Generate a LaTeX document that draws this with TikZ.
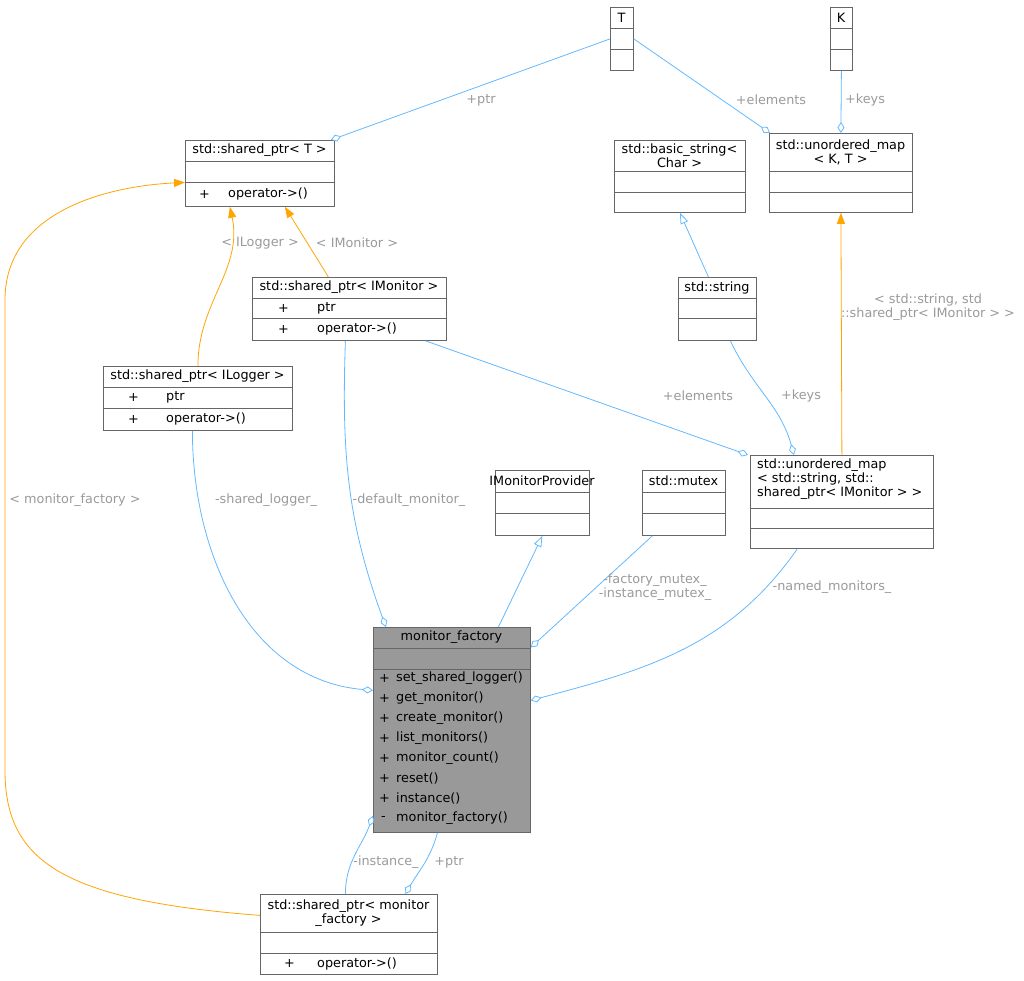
\documentclass[tikz,border=0pt]{standalone}
\usepackage{fontspec}
\setmainfont{DejaVu Sans}
\usetikzlibrary{arrows.meta,calc}
\definecolor{edgeblue}{HTML}{63B8FF}
\definecolor{edgeorange}{HTML}{FFA500}
\definecolor{lblgray}{HTML}{9A9A9A}
\definecolor{boxline}{HTML}{666666}
\tikzset{
    cls/.style={draw=boxline, fill=white, anchor=north west, inner sep=0pt, line width=0.8pt},
    row/.style={draw=boxline, line width=0.8pt},
    txt/.style={inner sep=0pt, font=\fontsize{12.8}{14}\selectfont, align=center},
    mem/.style={txt, anchor=west},
    lbl/.style={txt, text=lblgray},
    usage/.style={edgeblue, line width=0.8pt, -{Diamond[open, length=11pt, width=7pt]}},
    inherit/.style={edgeblue, line width=0.8pt, -{Triangle[open, length=11pt, width=8pt]}},
    templ/.style={edgeorange, line width=0.8pt, -{Triangle[length=11pt, width=8pt]}}
}
% a class box: name, x1, y1, x2, y2
\newcommand{\umlbox}[6][]{\node[cls, #1, minimum width=#4-#2, minimum height=#5-#3] (#6) at (#2,#3) {};}
\begin{document}
\begin{tikzpicture}[x=1pt, y=-1pt]
\useasboundingbox (0,0) rectangle (1024,980);
% class boxes
\umlbox{610}{7}{633}{70}{T}
\draw[row] (610,28) -- (633,28) (610,49) -- (633,49);
\node[txt] (T-t) at (621.5,17.5) {T};
\umlbox{830}{7}{852}{70}{K}
\draw[row] (830,28) -- (852,28) (830,49) -- (852,49);
\node[txt] (K-t) at (841,17.5) {K};
\umlbox{185}{140}{334}{206}{spT}
\draw[row] (185,161) -- (334,161) (185,182) -- (334,182);
\node[txt] (spT-t) at (259.5,150.5) {std::shared\_ptr< T >};
\node[mem] (spT-m1) at (199,194) {+};
\node[mem] (spT-m2) at (228,194) {operator->()};
\umlbox{614}{140}{745}{212}{bstr}
\draw[row] (614,171) -- (745,171) (614,192) -- (745,192);
\node[txt] (bstr-t) at (679.5,155.5) {std::basic\_string<\\Char >};
\umlbox{769}{133}{912}{212}{umKT}
\draw[row] (769,171) -- (912,171) (769,192) -- (912,192);
\node[txt] (umKT-t) at (840.5,152) {std::unordered\_map\\< K, T >};
\umlbox{252}{277}{446}{340}{spIM}
\draw[row] (252,298) -- (446,298) (252,318) -- (446,318);
\node[txt] (spIM-t) at (349,287.5) {std::shared\_ptr< IMonitor >};
\node[mem] (spIM-m1) at (278,308) {+};
\node[mem] (spIM-m2) at (317,308) {ptr};
\node[mem] (spIM-m3) at (278,329) {+};
\node[mem] (spIM-m4) at (317,329) {operator->()};
\umlbox{678}{277}{756}{340}{str}
\draw[row] (678,298) -- (756,298) (678,318) -- (756,318);
\node[txt] (str-t) at (717,287.5) {std::string};
\umlbox{103}{366}{292}{430}{spIL}
\draw[row] (103,387) -- (292,387) (103,408) -- (292,408);
\node[txt] (spIL-t) at (197.5,376.5) {std::shared\_ptr< ILogger >};
\node[mem] (spIL-m1) at (128,397.5) {+};
\node[mem] (spIL-m2) at (166,397.5) {ptr};
\node[mem] (spIL-m3) at (128,419) {+};
\node[mem] (spIL-m4) at (166,419) {operator->()};
\umlbox{495}{470}{589}{535}{imp}
\draw[row] (495,492) -- (589,492) (495,513) -- (589,513);
\node[txt] (imp-t) at (542,481) {IMonitorProvider};
\umlbox{642}{470}{725}{535}{mtx}
\draw[row] (642,492) -- (725,492) (642,513) -- (725,513);
\node[txt] (mtx-t) at (683.5,481) {std::mutex};
\umlbox{750}{455}{933}{548}{umSI}
\draw[row] (750,508) -- (933,508) (750,528) -- (933,528);
\node[txt, align=left, anchor=north west] (umSI-t) at (757,459) {std::unordered\_map\\< std::string, std::\\shared\_ptr< IMonitor > >};
\umlbox[fill=gray!80]{373}{627}{530}{832}{mf}
\draw[row] (373,648) -- (530,648) (373,669) -- (530,669);
\node[txt] (mf-t) at (451.5,637.5) {monitor\_factory};
\foreach \m [count=\i] in {set\_shared\_logger(), get\_monitor(), create\_monitor(), list\_monitors(),
    monitor\_count(), reset(), instance(), monitor\_factory()} {
    \node[mem] (mf-m\i) at (396,658+20*\i) {\m};
    \ifnum\i<8 \node[mem] (mf-v\i) at (379,658+20*\i) {+}; \else \node[mem] (mf-v\i) at (381,658+20*\i) {-}; \fi
}
\umlbox{260}{894}{437}{974}{spMF}
\draw[row] (260,932) -- (437,932) (260,953) -- (437,953);
\node[txt] (spMF-t) at (348.5,913) {std::shared\_ptr< monitor\\\_factory >};
\node[mem] (spMF-m1) at (284,963.5) {+};
\node[mem] (spMF-m2) at (317,963.5) {operator->()};
% connectors
\draw[usage] (T.west) -- ([xshift=-4pt]spT.north east);
\draw[usage] (T.east) -- ([xshift=1pt]umKT.north west);
\draw[usage] (K.south) -- (umKT.north);
\draw[templ] ([xshift=-21pt]spIM.north) -- ([xshift=25pt]spT.south);
\draw[templ] (spIL.north) to[out=90, in=-78] ([xshift=-30pt]spT.south);
\draw[templ] ([yshift=19pt]spMF.west) .. controls (60,900) and (5,860) .. (5,770) -- (5,300)
    .. controls (5,210) and (110,186) .. ([yshift=-9pt]spT.west);
\draw[inherit] ([xshift=-9pt]str.north) -- (bstr.south);
\draw[templ] (umSI.north) -- (umKT.south);
\draw[usage] ([xshift=76pt]spIM.south) -- ([xshift=-2pt]umSI.north west);
\draw[usage] ([xshift=13pt]str.south) to[out=-65, in=105] ([xshift=-48pt]umSI.north);
\draw[usage] ([xshift=-4pt]spIM.south) to[out=-92, in=110] ([xshift=-66pt]mf.north);
\draw[usage] ([xshift=-5.5pt]spIL.south) to[out=-90, in=175] ([yshift=39.5pt]mf.west);
\draw[inherit] ([xshift=46.5pt]mf.north) -- (imp.south);
\draw[usage] ([xshift=-31.5pt]mtx.south) -- ([yshift=82.5pt]mf.east);
\draw[usage] ([xshift=-44.5pt]umSI.south) to[out=-125, in=15] ([yshift=29.5pt]mf.east);
\draw[usage] ([xshift=-3.5pt]spMF.north) to[out=90, in=-110] ([yshift=17pt]mf.south west);
\draw[usage] ([xshift=-14.5pt]mf.south) to[out=-105, in=60] ([xshift=56.5pt]spMF.north);
% connector labels
\node[lbl] (l-ptr) at (481,100) {+ptr};
\node[lbl] (l-elem) at (771,100) {+elements};
\node[lbl] (l-keys) at (865,100) {+keys};
\node[lbl] (l-im) at (357,243) {< IMonitor >};
\node[lbl] (l-il) at (260,243) {< ILogger >};
\node[lbl] (l-mf) at (75,500) {< monitor\_factory >};
\node[lbl] (l-umsi) at (928,307) {< std::string, std\\::shared\_ptr< IMonitor > >};
\node[lbl] (l-elem2) at (698,396) {+elements};
\node[lbl] (l-keys2) at (801,396) {+keys};
\node[lbl] (l-dm) at (409,500) {-default\_monitor\_};
\node[lbl] (l-sl) at (266,500) {-shared\_logger\_};
\node[lbl] (l-mtx) at (655,587) {-factory\_mutex\_\\-instance\_mutex\_};
\node[lbl] (l-nm) at (832,587) {-named\_monitors\_};
\node[lbl] (l-inst) at (386,862) {-instance\_};
\node[lbl] (l-ptr2) at (449,862) {+ptr};
\end{tikzpicture}
\end{document}
